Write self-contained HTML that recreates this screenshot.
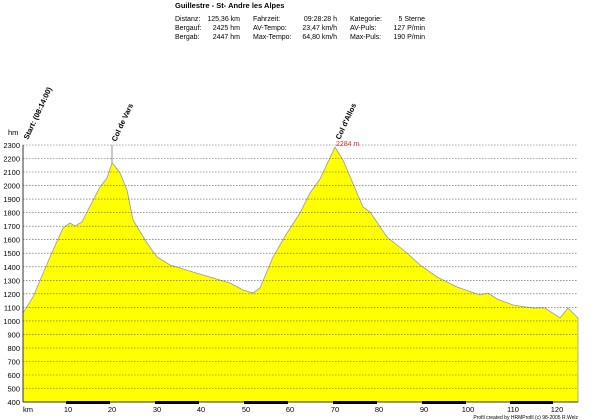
<!DOCTYPE html><html><head><style>body{margin:0;background:#fff}svg{display:block;font-family:"Liberation Sans",sans-serif}</style></head><body>
<svg width="600" height="420" xmlns="http://www.w3.org/2000/svg">
<g font-size="7" fill="#000">
<text x="175" y="8" font-weight="bold" font-size="7.5">Guillestre - St- Andre les Alpes</text>
<text x="175" y="21">Distanz:</text><text x="240" y="21" text-anchor="end">125,36 km</text>
<text x="175" y="30">Bergauf:</text><text x="240" y="30" text-anchor="end">2425 hm</text>
<text x="175" y="39">Bergab:</text><text x="240" y="39" text-anchor="end">2447 hm</text>
<text x="253" y="21">Fahrzeit:</text><text x="337" y="21" text-anchor="end">09:28:28 h</text>
<text x="253" y="30">AV-Tempo:</text><text x="337" y="30" text-anchor="end">23,47 km/h</text>
<text x="253" y="39">Max-Tempo:</text><text x="337" y="39" text-anchor="end">64,80 km/h</text>
<text x="350" y="21">Kategorie:</text><text x="425" y="21" text-anchor="end">5 Sterne</text>
<text x="350" y="30">AV-Puls:</text><text x="425" y="30" text-anchor="end">127 P/min</text>
<text x="350" y="39">Max-Puls:</text><text x="425" y="39" text-anchor="end">190 P/min</text>
</g>
<polygon fill="#ffff00" stroke="#999" stroke-width="0.8" points="23,402 23,313 33,297 50,257 63,228 70,223 75,226 82,222 87,212 100,187 107,178 112,163 114,165 120,173 127,190 133,220 147,243 157,257 170,265 193,272 213,278 230,283 243,290 253,293 260,288 273,257 287,233 300,213 310,193 320,179 335,147 343,160 363,207 370,212 387,237 407,253 420,265 437,277 457,287 480,295 488,293 497,299 513,305 533,308 545,308 560,318 568,308 578,318 578,402"/>
<g stroke="#555" stroke-width="0.6" stroke-dasharray="1.5,1.5">
<line x1="23" x2="578" y1="145" y2="145"/><line x1="23" x2="578" y1="158.5" y2="158.5"/><line x1="23" x2="578" y1="172" y2="172"/><line x1="23" x2="578" y1="185.6" y2="185.6"/><line x1="23" x2="578" y1="199.1" y2="199.1"/><line x1="23" x2="578" y1="212.6" y2="212.6"/><line x1="23" x2="578" y1="226.2" y2="226.2"/><line x1="23" x2="578" y1="239.7" y2="239.7"/><line x1="23" x2="578" y1="253.2" y2="253.2"/><line x1="23" x2="578" y1="266.8" y2="266.8"/><line x1="23" x2="578" y1="280.3" y2="280.3"/><line x1="23" x2="578" y1="293.8" y2="293.8"/><line x1="23" x2="578" y1="307.4" y2="307.4"/><line x1="23" x2="578" y1="320.9" y2="320.9"/><line x1="23" x2="578" y1="334.4" y2="334.4"/><line x1="23" x2="578" y1="348" y2="348"/><line x1="23" x2="578" y1="361.5" y2="361.5"/><line x1="23" x2="578" y1="375" y2="375"/><line x1="23" x2="578" y1="388.5" y2="388.5"/>
</g>
<line x1="112" y1="145" x2="112" y2="163" stroke="#777" stroke-width="0.8"/>
<line x1="23" y1="145" x2="23" y2="402" stroke="#333"/>
<line x1="23" y1="402" x2="578" y2="402" stroke="#333"/>
<g fill="#000"><rect x="66" y="401" width="44" height="3"/><rect x="155" y="401" width="44" height="3"/><rect x="244" y="401" width="44" height="3"/><rect x="333" y="401" width="44" height="3"/><rect x="422" y="401" width="44" height="3"/><rect x="510" y="401" width="43" height="3"/></g>
<g font-size="7.5" fill="#000" text-anchor="end">
<text x="20" y="148">2300</text><text x="20" y="161.5">2200</text><text x="20" y="175">2100</text><text x="20" y="188.6">2000</text><text x="20" y="202.1">1900</text><text x="20" y="215.6">1800</text><text x="20" y="229.2">1700</text><text x="20" y="242.7">1600</text><text x="20" y="256.2">1500</text><text x="20" y="269.8">1400</text><text x="20" y="283.3">1300</text><text x="20" y="296.8">1200</text><text x="20" y="310.4">1100</text><text x="20" y="323.9">1000</text><text x="20" y="337.4">900</text><text x="20" y="351">800</text><text x="20" y="364.5">700</text><text x="20" y="378">600</text><text x="20" y="391.5">500</text><text x="20" y="405">400</text>
</g>
<text x="8" y="135" font-size="7.5">hm</text>
<g font-size="7.5" fill="#000" text-anchor="middle">
<text x="28" y="412">km</text><text x="68" y="412">10</text><text x="112" y="412">20</text><text x="157" y="412">30</text><text x="201" y="412">40</text><text x="246" y="412">50</text><text x="290" y="412">60</text><text x="335" y="412">70</text><text x="379" y="412">80</text><text x="424" y="412">90</text><text x="468" y="412">100</text><text x="513" y="412">110</text><text x="557" y="412">120</text>
</g>
<text x="578" y="419" font-size="5" text-anchor="end">Profil created by HRMProfil (c) 98-2005 R.Welz</text>
<g font-size="7.5" font-weight="bold" fill="#000">
<text transform="translate(28,140) rotate(-65)">Start: (08:14:00)</text>
<text transform="translate(116,142) rotate(-65)">Col de Vars</text>
<text transform="translate(340,140) rotate(-65)">Col d'Allos</text>
</g>
<text x="336" y="146" font-size="7" fill="#e03030">2284 m</text>
</svg></body></html>
